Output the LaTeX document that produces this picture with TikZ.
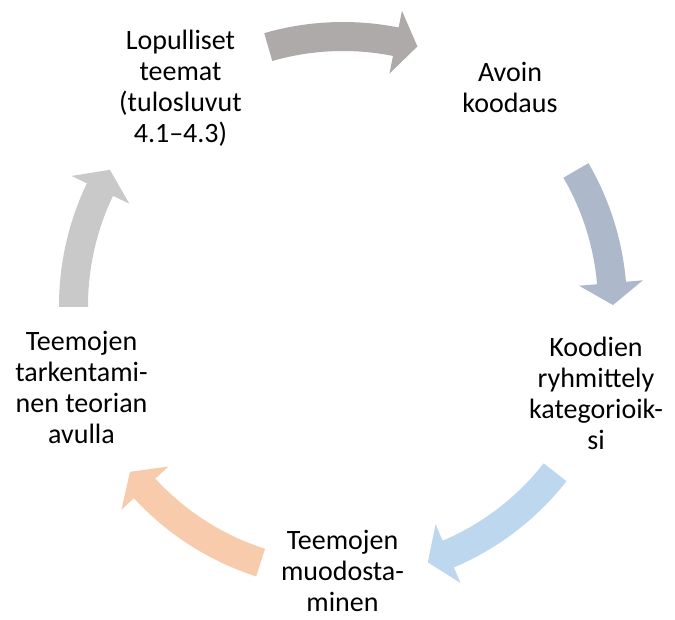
\documentclass[tikz,border=0pt]{standalone}
\usepackage{fontspec}
\setmainfont{Carlito}
\usetikzlibrary{positioning}

% curved block arrow round (c): tail angle, tip angle, colour
\newcommand{\cyclearrow}[3]{%
  \fill[#3] ([shift={(#1:284)}]c) arc[start angle=#1, end angle=#2+4.7, radius=284]
    -- ([shift={({#2+4.7}:301)}]c) -- ([shift={(#2:270)}]c)
    -- ([shift={({#2+4.7}:237)}]c) -- ([shift={({#2+4.7}:255)}]c)
    arc[start angle=#2+4.7, end angle=#1, radius=255] -- cycle;}

\begin{document}
\begin{tikzpicture}[x=1pt,y=1pt]
  \definecolor{arrgrey}{RGB}{174,170,170}
  \definecolor{arrslate}{RGB}{173,185,202}
  \definecolor{arrblue}{RGB}{189,215,238}
  \definecolor{arrpeach}{RGB}{248,203,173}
  \definecolor{arrlight}{RGB}{201,201,201}
  \tikzset{
    lbl/.style={
      align=center,
      inner sep=0pt,
      font=\fontsize{28}{31}\selectfont
    }
  }
  \useasboundingbox (0,0) rectangle (675,619);
  \coordinate (c) at (343,313);

  % ======= Nuolet =======
  \cyclearrow{106.1}{74.0}{arrgrey}
  \cyclearrow{30.2}{0.2}{arrslate}
  \cyclearrow{-38.1}{-71.7}{arrblue}
  \cyclearrow{-107.8}{-142.1}{arrpeach}
  \cyclearrow{180.2}{149.7}{arrlight}

  % ======= Vaiheet =======
  \node[lbl] (lopul) at (180.5,531) {Lopulliset\\teemat\\(tulosluvut\\4.1–4.3)};
  \node[lbl] (avoin) at (510,532) {Avoin\\koodaus};
  \node[lbl] (ryhm)  at (596,226) {Koodien\\ryhmittely\\kategorioik-\\si};
  \node[lbl] (muod)  at (342.5,48) {Teemojen\\muodosta-\\minen};
  \node[lbl] (tark)  at (81.5,232) {Teemojen\\tarkentami-\\nen teorian\\avulla};
\end{tikzpicture}
\end{document}
